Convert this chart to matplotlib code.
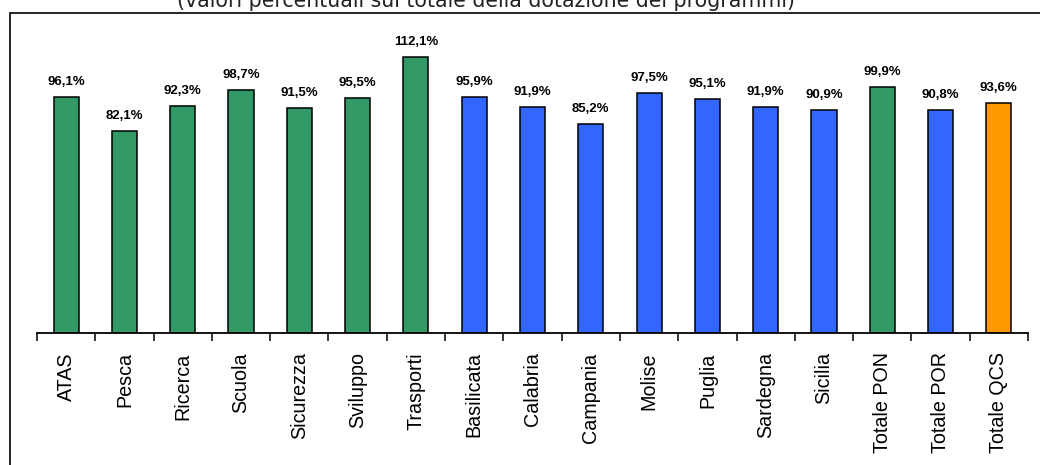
import matplotlib
matplotlib.use("Agg")
import matplotlib.pyplot as plt
from matplotlib.patches import Rectangle
import numpy as np

categorie = ["ATAS", "Pesca", "Ricerca", "Scuola", "Sicurezza", "Sviluppo", "Trasporti",
             "Basilicata", "Calabria", "Campania", "Molise", "Puglia", "Sardegna", "Sicilia",
             "Totale PON", "Totale POR", "Totale QCS"]
valori = [96.1, 82.1, 92.3, 98.7, 91.5, 95.5, 112.1,
          95.9, 91.9, 85.2, 97.5, 95.1, 91.9, 90.9,
          99.9, 90.8, 93.6]
tipo = ["PON"] * 7 + ["POR"] * 7 + ["PON", "POR", "QCS"]
colori_tipo = {"PON": "#339966", "POR": "#3366FF", "QCS": "#FF9900"}

fig = plt.figure(figsize=(10.4, 4.65), dpi=100)
ax = fig.add_axes([37 / 1040, 1 - 333 / 465, (1028 - 37) / 1040, 295 / 465])

x = np.arange(len(categorie))
colori = [colori_tipo[t] for t in tipo]
bars = ax.bar(x, valori, width=0.43, color=colori, edgecolor="black", linewidth=1.1, zorder=2)

for xi, v in zip(x, valori):
    ax.annotate(f"{v:.1f}%".replace(".", ","), (xi, v), xytext=(0, 6.5), textcoords="offset points",
                ha="center", va="bottom", fontsize=9.5, fontweight="bold",
                family="Liberation Sans")

ax.set_xlim(-0.5, len(categorie) - 0.5)
ax.set_ylim(0, 120)
for s in ["top", "right", "left"]:
    ax.spines[s].set_visible(False)
ax.spines["bottom"].set_linewidth(1.3)
ax.set_yticks([])

# tick di confine tra le categorie, etichette al centro
ax.set_xticks(np.arange(len(categorie) + 1) - 0.5)
ax.set_xticklabels([])
ax.tick_params(axis="x", which="major", direction="out", length=5.5, width=1.1)
ax.set_xticks(x, minor=True)
ax.set_xticklabels(categorie, minor=True, rotation=90, fontsize=14.2, family="Liberation Sans")
ax.tick_params(axis="x", which="minor", length=0, pad=14)

# cornice del grafico (tagliata a destra e in basso)
fig.patches.append(Rectangle((10 / 1040, -0.2), 1.2, 1 - 12.7 / 465 + 0.2,
                             transform=fig.transFigure, fill=False, edgecolor="black",
                             linewidth=1.2, clip_on=False))

fig.text(486 / 1040, 1 - 7 / 465, "(valori percentuali sul totale della dotazione dei programmi)",
         ha="center", va="baseline", fontsize=14.8, family="DejaVu Sans", color="#222222")

fig.savefig("out.png", dpi=100)
